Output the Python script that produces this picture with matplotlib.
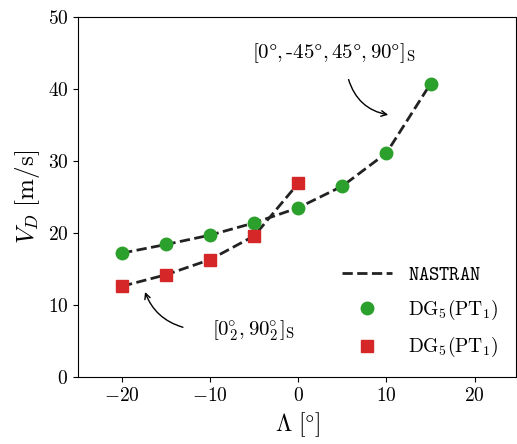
import numpy as np
import matplotlib
matplotlib.use("Agg")
import matplotlib.pyplot as plt

plt.rcParams['font.family'] = 'serif'
plt.rcParams['font.serif'] = ['cmr10']
plt.rcParams['mathtext.fontset'] = 'cm'
plt.rcParams['axes.formatter.use_mathtext'] = True
plt.rcParams['axes.unicode_minus'] = True

# sweep angle [deg]
sweep_a = [-20, -15, -10, -5, 0, 5, 10, 15]
sweep_b = [-20, -15, -10, -5, 0]
# divergence speeds [m/s]
nastran_a = [17.2, 18.4, 19.7, 21.4, 23.5, 26.5, 31.1, 40.7]
nastran_b = [12.6, 14.2, 16.3, 19.6, 26.9]
dg_a = [17.2, 18.4, 19.7, 21.4, 23.5, 26.5, 31.1, 40.7]
dg_b = [12.6, 14.2, 16.3, 19.6, 26.9]

fig = plt.figure(figsize=(5.17, 4.44), dpi=100)
ax = fig.add_axes([0.151, 0.151, 0.847, 0.811])

ax.plot(sweep_a, nastran_a, '--', color='#222222', lw=2, label=r'$\mathtt{NASTRAN}$', zorder=2)
ax.plot(sweep_b, nastran_b, '--', color='#222222', lw=2, zorder=2)
ax.plot(sweep_a, dg_a, 'o', color='#2ca02c', ms=9, label=r'$\mathrm{DG}_5(\mathrm{PT}_1)$', zorder=3)
ax.plot(sweep_b, dg_b, 's', color='#d62728', ms=8.5, label=r'$\mathrm{DG}_5(\mathrm{PT}_1)$', zorder=3)

# layup labels
ax.text(4.0, 45.0, r'$[0\degree,$-$45\degree,45\degree,90\degree]_\mathrm{S}$',
        ha='center', va='center', fontsize=15)
ax.annotate('', xy=(10.2, 36.4), xytext=(5.7, 41.3),
            arrowprops=dict(arrowstyle='->', color='k', lw=1,
                            connectionstyle='arc3,rad=0.3', shrinkA=0, shrinkB=0))
ax.text(-5.1, 6.4, r'$[0_2^{\!\!\circ},90_2^{\!\!\circ}]_\mathrm{S}$',
        ha='center', va='center', fontsize=15)
ax.annotate('', xy=(-17.4, 11.8), xytext=(-13.1, 6.9),
            arrowprops=dict(arrowstyle='->', color='k', lw=1,
                            connectionstyle='arc3,rad=-0.25', shrinkA=0, shrinkB=0))

ax.set_xlim(-25, 24.7)
ax.set_ylim(0, 50)
ax.set_xticks([-20, -10, 0, 10, 20])
ax.set_yticks([0, 10, 20, 30, 40, 50])
ax.tick_params(labelsize=14)
ax.set_xlabel(r'$\Lambda\ [\degree]$', fontsize=17)
ax.set_ylabel(r'$V_D\ [\mathrm{m/s}]$', fontsize=18)
ax.legend(loc='lower right', frameon=False, fontsize=14, bbox_to_anchor=(1.0, 0.0),
          labelspacing=0.7, handlelength=2.6)

fig.savefig('out.png', dpi=100)
